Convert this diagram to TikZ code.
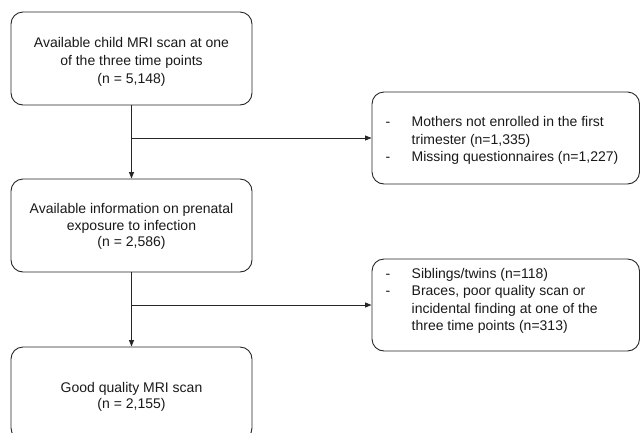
\documentclass[tikz,border=0pt]{standalone}
\usepackage{fontspec}
\setmainfont{Liberation Sans}
\usetikzlibrary{arrows.meta}
\begin{document}
\begin{tikzpicture}[x=1pt,y=-1pt,
  box/.style={draw=black!85, line width=0.9pt, rounded corners=12pt, minimum width=241pt, minimum height=93pt, inner sep=0pt},
  sidebox/.style={box, minimum width=267.5pt, minimum height=92pt},
  txt/.style={text=black!90, inner sep=0pt, align=center},
  ltxt/.style={txt, align=left, anchor=base west},
  arr/.style={draw=black!85, line width=0.9pt, -{Triangle[length=6.5pt,width=5pt]}}]
\useasboundingbox (0,0) rectangle (640,432);
\clip (0,0) rectangle (640,432);
% main boxes
\node[box] (b1) at (131.5,58.5) {};
\node[box] (b2) at (131.5,225.5) {};
\node[box] (b3) at (131.5,393.5) {};
% side boxes
\node[sidebox] (r1) at (505.75,138) {};
\node[sidebox] (r2) at (505.75,305) {};
% texts (base anchor = baseline of last line)
\node[txt, anchor=base, font=\fontsize{14pt}{18pt}\selectfont] (t1) at (131.5,83.5)
  {Available child MRI scan at one\\of the three time points\\(n = 5,148)};
\node[txt, anchor=base, font=\fontsize{14pt}{16.5pt}\selectfont] (t2) at (131.5,246.5)
  {Available information on prenatal\\exposure to infection\\(n = 2,586)};
\node[txt, anchor=base, font=\fontsize{14pt}{16pt}\selectfont] (t3) at (131.5,408)
  {Good quality MRI scan\\(n = 2,155)};
\node[ltxt, font=\fontsize{14pt}{17.5pt}\selectfont] (s1) at (385.5,161.5)
  {\makebox[26pt][l]{-}Mothers not enrolled in the first\\
   \hspace*{26pt}trimester (n=1,335)\\
   \makebox[26pt][l]{-}Missing questionnaires (n=1,227)};
\node[ltxt, font=\fontsize{14pt}{17.3pt}\selectfont] (s2) at (385.5,330.4)
  {\makebox[26pt][l]{-}Siblings/twins (n=118)\\
   \makebox[26pt][l]{-}Braces, poor quality scan or\\
   \hspace*{26pt}incidental finding at one of the\\
   \hspace*{26pt}three time points (n=313)};
% connectors
\draw[arr] (b1.south) -- (b2.north);
\draw[arr] (b2.south) -- (b3.north);
\draw[arr] (b1.south |- r1.west) -- (r1.west);
\draw[arr] (b2.south |- r2.west) -- (r2.west);
\end{tikzpicture}
\end{document}
